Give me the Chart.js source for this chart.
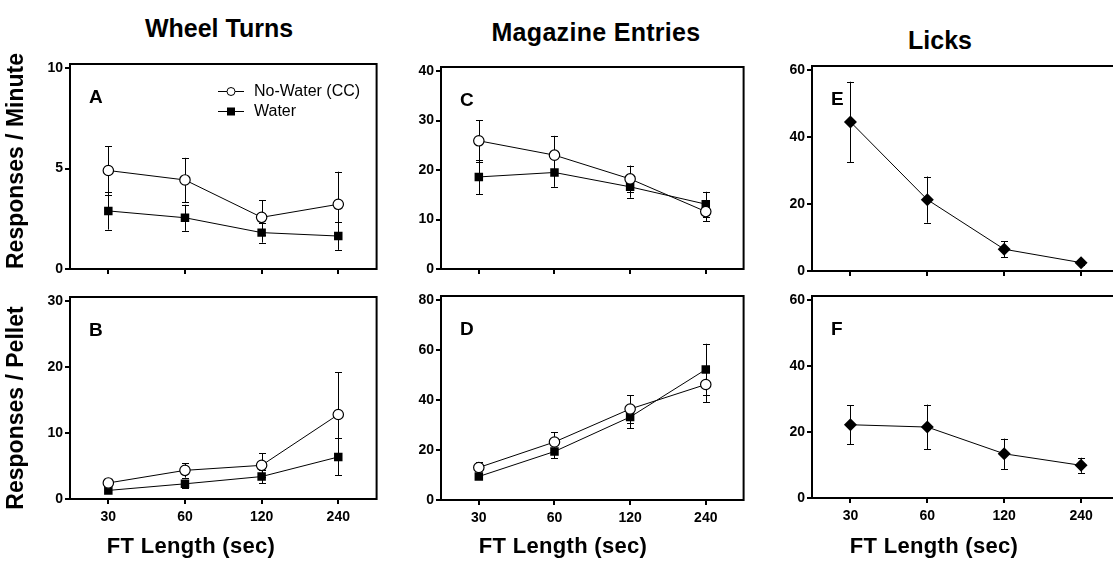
<!DOCTYPE html>
<html><head><meta charset="utf-8">
<script src="https://cdn.jsdelivr.net/npm/chart.js@4.4.0/dist/chart.umd.min.js"></script>
<style>
html,body{margin:0;padding:0;background:#fff;width:1113px;height:561px;overflow:hidden;position:relative;font-family:"Liberation Sans",Arial,sans-serif;}
canvas{position:absolute;}
.t{position:absolute;font-weight:bold;color:#000;white-space:nowrap;line-height:1;transform:translate(-50%,-50%);}
.r{transform:translate(-50%,-50%) rotate(-90deg);}
</style></head><body>
<canvas id="pA"></canvas><canvas id="pB"></canvas><canvas id="pC"></canvas>
<canvas id="pD"></canvas><canvas id="pE"></canvas><canvas id="pF"></canvas>
<div class="t" style="left:219px;top:28px;font-size:25px;">Wheel Turns</div>
<div class="t" style="left:596px;top:32px;font-size:25px;letter-spacing:0.3px;">Magazine Entries</div>
<div class="t" style="left:940px;top:40px;font-size:25px;">Licks</div>
<div class="t r" style="left:15px;top:161px;font-size:23px;">Responses / Minute</div>
<div class="t r" style="left:15px;top:408px;font-size:23px;">Responses / Pellet</div>
<div class="t" style="left:191px;top:546px;font-size:22px;letter-spacing:0.3px;">FT Length (sec)</div>
<div class="t" style="left:563px;top:546px;font-size:22px;letter-spacing:0.3px;">FT Length (sec)</div>
<div class="t" style="left:934px;top:546px;font-size:22px;letter-spacing:0.3px;">FT Length (sec)</div>
<script>
// ---------- data ----------
const ftLengths = ['30', '60', '120', '240'];
const seriesNames = ['No-Water (CC)', 'Water'];

const wheelMinNoWater    = [4.90, 4.43, 2.57, 3.22];
const wheelMinNoWaterSem = [1.20, 1.10, 0.86, 1.62];
const wheelMinWater      = [2.89, 2.55, 1.81, 1.64];
const wheelMinWaterSem   = [0.93, 0.65, 0.50, 0.69];

const magMinNoWater      = [25.9, 23.0, 18.2, 11.6];
const magMinNoWaterSem   = [4.2, 3.9, 2.7, 1.9];
const magMinWater        = [18.6, 19.5, 16.6, 13.1];
const magMinWaterSem     = [3.5, 2.9, 2.2, 2.5];

const licksMin           = [44.5, 21.3, 6.5, 2.5];
const licksMinSem        = [12.0, 6.9, 2.4, 0.6];

const wheelPelNoWater    = [2.43, 4.34, 5.10, 12.8];
const wheelPelNoWaterSem = [0.30, 1.10, 1.80, 6.4];
const wheelPelWater      = [1.30, 2.30, 3.40, 6.37];
const wheelPelWaterSem   = [0.30, 0.60, 1.00, 2.8];

const magPelNoWater      = [13.0, 23.2, 36.4, 46.2];
const magPelNoWaterSem   = [2.1, 4.0, 5.5, 7.1];
const magPelWater        = [9.4, 19.4, 33.2, 52.2];
const magPelWaterSem     = [1.0, 2.7, 4.4, 10.3];

const licksPel           = [22.2, 21.5, 13.4, 9.9];
const licksPelSem        = [5.9, 6.8, 4.6, 2.3];

const ticksA = [0, 5, 10];
const ticksB = [0, 10, 20, 30];
const ticksC = [0, 10, 20, 30, 40];
const ticksD = [0, 20, 40, 60, 80];
const ticksE = [0, 20, 40, 60];
const ticksF = [0, 20, 40, 60];

// ---------- rendering ----------
Chart.defaults.font.family = '"Liberation Sans", Arial, sans-serif';
Chart.defaults.color = '#000';

const YW = 50, PADT = 12, XH = 42, PADR = 4, FRAME_EXT = 4;

const framePlugin = {
  id: 'frame',
  beforeDatasetsDraw(chart) {
    const a = chart.chartArea, ctx = chart.ctx;
    ctx.save();
    ctx.strokeStyle = '#000';
    ctx.lineWidth = 2;
    ctx.strokeRect(a.left, a.top - FRAME_EXT, a.right - a.left, a.bottom - a.top + FRAME_EXT);
    // error bars
    const y = chart.scales.y;
    chart.data.datasets.forEach((ds, i) => {
      const meta = chart.getDatasetMeta(i);
      if (!ds.sem) return;
      ctx.lineWidth = 1;
      meta.data.forEach((pt, j) => {
        const v = ds.data[j], s = ds.sem[j];
        const yt = y.getPixelForValue(v + s), yb = y.getPixelForValue(v - s);
        const x = Math.round(pt.x) + 0.5;
        ctx.beginPath();
        ctx.moveTo(x, yt); ctx.lineTo(x, yb);
        ctx.moveTo(x - 3.5, Math.round(yt) + 0.5); ctx.lineTo(x + 3.5, Math.round(yt) + 0.5);
        ctx.moveTo(x - 3.5, Math.round(yb) + 0.5); ctx.lineTo(x + 3.5, Math.round(yb) + 0.5);
        ctx.stroke();
      });
    });
    ctx.restore();
  },
  afterDraw(chart, args, opts) {
    const a = chart.chartArea, ctx = chart.ctx;
    ctx.save();
    ctx.fillStyle = '#000';
    ctx.font = 'bold 19px "Liberation Sans", Arial, sans-serif';
    ctx.textBaseline = 'middle';
    ctx.fillText(opts.letter, a.left + 19, a.top - FRAME_EXT + 34);
    if (opts.legend) {
      ctx.font = '16px "Liberation Sans", Arial, sans-serif';
      chart.data.datasets.forEach((ds, i) => {
        const yy = a.top + 23 + i * 20;
        const x0 = a.left + 148, x1 = a.left + 174, xm = (x0 + x1) / 2;
        ctx.strokeStyle = '#000'; ctx.lineWidth = 1;
        ctx.beginPath(); ctx.moveTo(x0, yy + 0.5); ctx.lineTo(x1, yy + 0.5); ctx.stroke();
        if (ds.pointStyle === 'circle') {
          ctx.beginPath(); ctx.arc(xm, yy + 0.5, 4, 0, Math.PI * 2);
          ctx.fillStyle = '#fff'; ctx.fill(); ctx.stroke();
        } else {
          ctx.fillStyle = '#000'; ctx.fillRect(xm - 4, yy + 0.5 - 4, 8, 8);
        }
        ctx.fillStyle = '#000';
        ctx.fillText(ds.label, a.left + 184, yy + 1);
      });
    }
    ctx.restore();
  }
};

function ds(label, data, sem, style) {
  const base = {label, data, sem, borderColor: '#000', borderWidth: 1, tension: 0, fill: false,
    pointBorderColor: '#000', pointBorderWidth: 1.2};
  if (style === 'circle') return Object.assign(base, {pointStyle: 'circle', pointRadius: 5.2, pointBackgroundColor: '#fff'});
  if (style === 'rect') return Object.assign(base, {pointStyle: 'rect', pointRadius: 6, pointBackgroundColor: '#000', pointBorderWidth: 0});
  return Object.assign(base, {pointStyle: 'rectRot', pointRadius: 6.5, pointBackgroundColor: '#000', pointBorderWidth: 0});
}

function makePanel(id, box, yTicks, datasets, letter, showX, legend) {
  const c = document.getElementById(id);
  const pw = box.right - box.left, ph = box.bottom - box.top;
  const W = YW + pw + PADR, H = PADT + ph + XH;
  c.width = W; c.height = H;
  c.style.width = W + 'px'; c.style.height = H + 'px';
  c.style.left = (box.left - YW) + 'px';
  c.style.top = (box.top - PADT) + 'px';
  new Chart(c, {
    type: 'line',
    data: {labels: ftLengths, datasets},
    options: {
      responsive: false, animation: false, devicePixelRatio: 1, events: [],
      layout: {padding: {top: PADT, right: PADR, left: 0, bottom: 0}},
      plugins: {legend: {display: false}, tooltip: {enabled: false}, frame: {letter, legend}},
      scales: {
        x: {
          type: 'category', offset: true,
          grid: {drawOnChartArea: false, drawTicks: true, tickLength: 5, color: '#000', lineWidth: 2},
          border: {display: false},
          ticks: {display: showX, font: {size: 14, weight: 'bold'}, padding: 5, maxRotation: 0, autoSkip: false},
          afterFit(s) { s.height = XH; }
        },
        y: {
          min: yTicks[0], max: yTicks[yTicks.length - 1],
          grid: {drawOnChartArea: false, drawTicks: true, tickLength: 5, color: '#000', lineWidth: 2},
          border: {display: false},
          ticks: {font: {size: 14, weight: 'bold'}, padding: 2},
          afterBuildTicks(s) { s.ticks = yTicks.map(v => ({value: v})); },
          afterFit(s) { s.width = YW; }
        }
      }
    },
    plugins: [framePlugin]
  });
}

makePanel('pA', {left: 70, right: 379, top: 68, bottom: 269}, ticksA, [
  ds(seriesNames[0], wheelMinNoWater, wheelMinNoWaterSem, 'circle'),
  ds(seriesNames[1], wheelMinWater, wheelMinWaterSem, 'rect')], 'A', false, true);
makePanel('pC', {left: 441, right: 746, top: 71, bottom: 269}, ticksC, [
  ds(seriesNames[0], magMinNoWater, magMinNoWaterSem, 'circle'),
  ds(seriesNames[1], magMinWater, magMinWaterSem, 'rect')], 'C', false, false);
makePanel('pE', {left: 812, right: 1122, top: 70, bottom: 271}, ticksE, [
  ds('Licks', licksMin, licksMinSem, 'diamond')], 'E', false, false);
makePanel('pB', {left: 70, right: 379, top: 301, bottom: 499}, ticksB, [
  ds(seriesNames[0], wheelPelNoWater, wheelPelNoWaterSem, 'circle'),
  ds(seriesNames[1], wheelPelWater, wheelPelWaterSem, 'rect')], 'B', true, false);
makePanel('pD', {left: 441, right: 746, top: 300, bottom: 500}, ticksD, [
  ds(seriesNames[0], magPelNoWater, magPelNoWaterSem, 'circle'),
  ds(seriesNames[1], magPelWater, magPelWaterSem, 'rect')], 'D', true, false);
makePanel('pF', {left: 812, right: 1122, top: 300, bottom: 498}, ticksF, [
  ds('Licks', licksPel, licksPelSem, 'diamond')], 'F', true, false);
</script>
</body></html>
